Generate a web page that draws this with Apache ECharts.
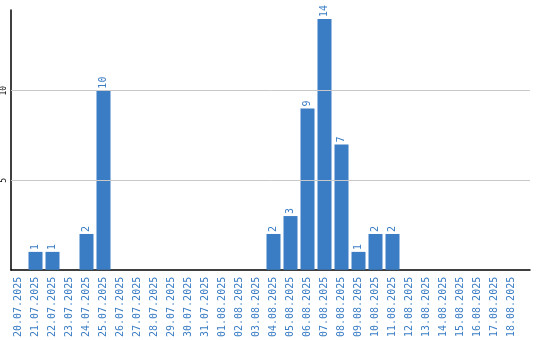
<!DOCTYPE html>
<html><head><meta charset="utf-8">
<script src="https://cdn.jsdelivr.net/npm/echarts@6/dist/echarts.min.js"></script>
<style>html,body{margin:0;padding:0;background:#fff}#c{width:540px;height:340px}</style>
</head><body><div id="c"></div>
<script>
var categories = ['20.07.2025','21.07.2025','22.07.2025','23.07.2025','24.07.2025','25.07.2025','26.07.2025','27.07.2025','28.07.2025','29.07.2025','30.07.2025','31.07.2025','01.08.2025','02.08.2025','03.08.2025','04.08.2025','05.08.2025','06.08.2025','07.08.2025','08.08.2025','09.08.2025','10.08.2025','11.08.2025','12.08.2025','13.08.2025','14.08.2025','15.08.2025','16.08.2025','17.08.2025','18.08.2025'];
var values = [0,1,1,0,2,10,0,0,0,0,0,0,0,0,0,2,3,9,14,7,1,2,2,0,0,0,0,0,0,0];
var yTicks = [5,10];
var yMax = 14.5;

var blue = '#3a7dc4';
var font = 'DejaVu Sans Mono';
var chart = echarts.init(document.getElementById('c'));
chart.setOption({
  animation: false,
  grid: [
    {left: 10, right: 20, top: 10, bottom: 70},
    {left: 10, right: 10, top: 10, bottom: 70}
  ],
  xAxis: [
    {type: 'category', gridIndex: 0, data: categories,
     axisLine: {show: false}, axisTick: {show: false},
     axisLabel: {interval: 0, rotate: 90, color: blue, fontFamily: font, fontSize: 10, margin: 7}},
    {type: 'value', gridIndex: 1, min: 0, max: 1, show: true,
     axisLine: {show: true, onZero: false, lineStyle: {color: '#000', width: 1.5}},
     axisTick: {show: false}, axisLabel: {show: false}, splitLine: {show: false}}
  ],
  yAxis: [
    {type: 'value', gridIndex: 0, min: 0, max: yMax, show: false, splitLine: {show: false}},
    {type: 'value', gridIndex: 1, min: 0, max: yMax, interval: 5,
     axisLine: {show: true, onZero: false, lineStyle: {color: '#000', width: 1.5}},
     axisTick: {show: false},
     splitLine: {show: false},
     axisLabel: {rotate: 90, color: '#000', fontFamily: font, fontSize: 8, margin: 3,
       formatter: function (v) { return yTicks.indexOf(v) >= 0 ? String(v) : ''; }}}
  ],
  series: [
    {type: 'bar', xAxisIndex: 0, yAxisIndex: 0, data: values, barWidth: 14,
     itemStyle: {color: blue},
     label: {show: true, position: 'top', rotate: 90, align: 'left', verticalAlign: 'middle',
       distance: 2, color: blue, fontFamily: font, fontSize: 10,
       formatter: function (p) { return p.value ? String(p.value) : ''; }}},
    {type: 'line', xAxisIndex: 1, yAxisIndex: 1, data: [], silent: true,
     markLine: {silent: true, symbol: 'none', label: {show: false},
       lineStyle: {color: '#c8c8c8', type: 'solid', width: 1},
       data: yTicks.map(function (t) { return {yAxis: t}; })}}
  ]
});
</script></body></html>
